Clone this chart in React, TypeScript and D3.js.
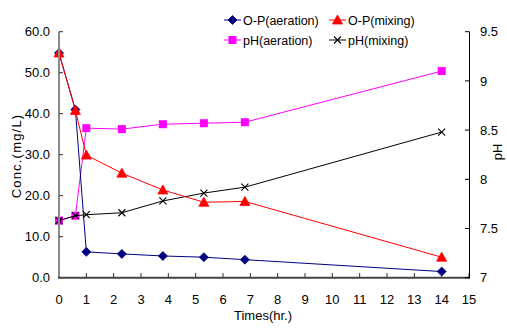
import React from "react";
import * as d3 from "d3";

const times = [0, 0.6, 1, 2.3, 3.8, 5.3, 6.8, 14];
const opAeration = [54.8, 41.0, 6.3, 5.8, 5.3, 5.0, 4.4, 1.5];
const opMixing = [54.8, 40.8, 29.9, 25.5, 21.4, 18.4, 18.6, 5.0];
const phAeration = [7.58, 7.63, 8.52, 8.51, 8.56, 8.57, 8.58, 9.1];
const phMixing = [7.58, 7.63, 7.64, 7.66, 7.78, 7.86, 7.92, 8.48];
const xTicks = d3.range(0, 16);
const leftTicks = [0, 10, 20, 30, 40, 50, 60];
const rightTicks = [7, 7.5, 8, 8.5, 9, 9.5];

const W = 507, H = 336;
const x = d3.scaleLinear().domain([0, 15]).range([59, 469]);
const yL = d3.scaleLinear().domain([0, 60]).range([277.7, 31.7]);
const yR = d3.scaleLinear().domain([7, 9.5]).range([277.7, 31.7]);
const FONT = "'Liberation Sans', Arial, sans-serif";

type MarkerKind = "diamond" | "triangle" | "square" | "x";

function Marker({ kind, cx, cy, color }: { kind: MarkerKind; cx: number; cy: number; color: string }) {
  if (kind === "diamond") {
    const s = 4.5;
    return <path d={`M${cx},${cy - s}L${cx + s},${cy}L${cx},${cy + s}L${cx - s},${cy}Z`} fill={color} stroke={color} strokeWidth={0.8} />;
  }
  if (kind === "triangle") {
    const s = 5;
    return <path d={`M${cx},${cy - s}L${cx + s},${cy + s * 0.8}L${cx - s},${cy + s * 0.8}Z`} fill={color} stroke={color} strokeWidth={0.8} />;
  }
  if (kind === "square") {
    const s = 4;
    return <rect x={cx - s} y={cy - s} width={2 * s} height={2 * s} fill={color} />;
  }
  const s = 3.5;
  return <path d={`M${cx - s},${cy - s}L${cx + s},${cy + s}M${cx - s},${cy + s}L${cx + s},${cy - s}`} stroke={color} strokeWidth={1.1} fill="none" />;
}

const series = [
  { name: "O-P(aeration)", values: opAeration, y: yL, color: "#000080", kind: "diamond" as MarkerKind },
  { name: "O-P(mixing)", values: opMixing, y: yL, color: "#FF0000", kind: "triangle" as MarkerKind },
  { name: "pH(aeration)", values: phAeration, y: yR, color: "#FF00FF", kind: "square" as MarkerKind },
  { name: "pH(mixing)", values: phMixing, y: yR, color: "#000000", kind: "x" as MarkerKind },
];

const drawOrder = [2, 3, 0, 1];

export default function App() {
  const legendPos = [
    { x0: 224, x1: 241, tx: 243, ty: 20 },
    { x0: 329, x1: 346, tx: 348, ty: 20 },
    { x0: 224, x1: 241, tx: 243, ty: 40 },
    { x0: 329, x1: 346, tx: 348, ty: 40 },
  ];
  return (
    <svg width={W} height={H} style={{ position: "absolute", left: 0, top: 0, background: "#fff" }} fontFamily={FONT}>
      <rect width={W} height={H} fill="#fff" />
      {/* series */}
      {drawOrder.map((i) => {
        const s = series[i];
        const line = d3
          .line<number>()
          .x((_, j) => x(times[j]))
          .y((v) => s.y(v));
        return (
          <g key={s.name}>
            <path d={line(s.values) || ""} fill="none" stroke={s.color} strokeWidth={1} />
            {s.values.map((v, j) => (
              <Marker key={j} kind={s.kind} cx={x(times[j])} cy={s.y(v)} color={s.color} />
            ))}
          </g>
        );
      })}
      {/* left axis */}
      <line x1={59} x2={59} y1={yL(60)} y2={yL(0)} stroke="#8a8a8a" strokeWidth={2} />
      {leftTicks.map((t) => (
        <g key={t}>
          <line x1={59} x2={63} y1={yL(t)} y2={yL(t)} stroke="#333" strokeWidth={1} />
          <text x={50} y={yL(t)} dy="0.36em" textAnchor="end" fontSize={13} fill="#000">
            {t.toFixed(1)}
          </text>
        </g>
      ))}
      {/* bottom axis */}
      <line x1={58} x2={469} y1={277.7} y2={277.7} stroke="#444" strokeWidth={2} />
      {xTicks.map((t) => (
        <g key={t}>
          {t > 0 && <line x1={x(t)} x2={x(t)} y1={277.7} y2={273} stroke="#333" strokeWidth={1} />}
          <text x={x(t)} y={304} textAnchor="middle" fontSize={13} fill="#000">
            {t}
          </text>
        </g>
      ))}
      {/* right axis */}
      <line x1={469.5} x2={469.5} y1={yR(9.5)} y2={yR(7) + 1} stroke="#000" strokeWidth={1} />
      {rightTicks.map((t) => (
        <g key={t}>
          <line x1={465} x2={469.5} y1={yR(t)} y2={yR(t)} stroke="#000" strokeWidth={1} />
          <text x={480} y={yR(t)} dy="0.36em" textAnchor="start" fontSize={13} fill="#000">
            {t}
          </text>
        </g>
      ))}
      {/* titles */}
      <text transform="translate(21,156) rotate(-90)" textAnchor="middle" fontSize={13} letterSpacing={1.2} fill="#000">
        Conc.(mg/L)
      </text>
      <text transform="translate(502,152) rotate(-90)" textAnchor="middle" fontSize={13} fill="#000">
        pH
      </text>
      <text x={263} y={319.5} textAnchor="middle" fontSize={13} fill="#000">
        Times(hr.)
      </text>
      {/* legend */}
      {series.map((s, i) => {
        const p = legendPos[i];
        return (
          <g key={s.name}>
            <line x1={p.x0} x2={p.x1} y1={p.ty} y2={p.ty} stroke={s.color} strokeWidth={1} />
            <Marker kind={s.kind} cx={(p.x0 + p.x1) / 2} cy={p.ty} color={s.color} />
            <text x={p.tx} y={p.ty} dy="0.36em" fontSize={12.5} fill="#000">
              {s.name}
            </text>
          </g>
        );
      })}
    </svg>
  );
}
